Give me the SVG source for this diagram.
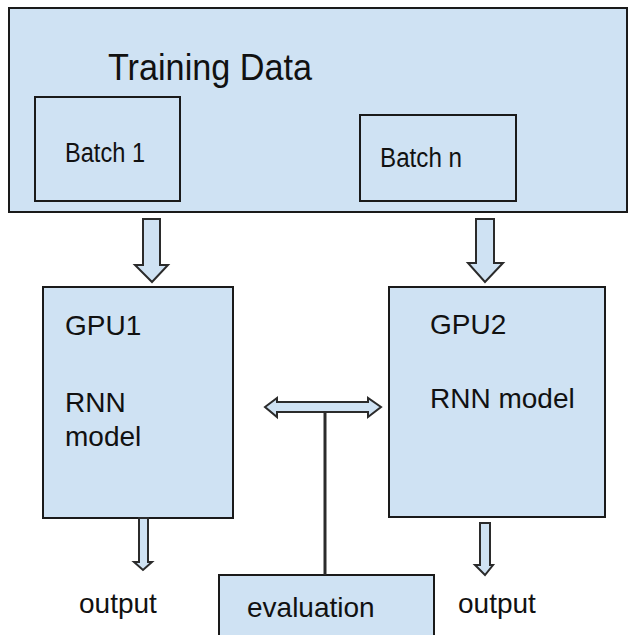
<svg xmlns="http://www.w3.org/2000/svg" width="633" height="635" viewBox="0 0 633 635">
  <style>
    .box { fill: #cfe2f3; stroke: #1a1a1a; stroke-width: 2; }
    .arrow { fill: #cfe2f3; stroke: #2b2b2b; stroke-width: 2; stroke-linejoin: miter; }
    .label { font-family: "Liberation Sans", Arial, sans-serif; fill: #111; }
  </style>
  <rect width="633" height="635" fill="#ffffff"/>

  <!-- Training data container with its batches -->
  <g id="training-data">
    <rect class="box" x="9" y="8" width="618" height="204"/>
    <text class="label" x="108" y="80" font-size="36" textLength="204" lengthAdjust="spacingAndGlyphs">Training Data</text>
  </g>
  <g id="batch-1">
    <rect class="box" x="35" y="97" width="145" height="104"/>
    <text class="label" x="65" y="162" font-size="27" textLength="80" lengthAdjust="spacingAndGlyphs">Batch 1</text>
  </g>
  <g id="batch-n">
    <rect class="box" x="360" y="115" width="156" height="86"/>
    <text class="label" x="380" y="167" font-size="27" textLength="82" lengthAdjust="spacingAndGlyphs">Batch n</text>
  </g>

  <!-- GPU workers -->
  <g id="gpu1">
    <rect class="box" x="43" y="287" width="190" height="231"/>
    <text class="label" x="65" y="335" font-size="28">GPU1</text>
    <text class="label" x="65" y="412" font-size="28">RNN</text>
    <text class="label" x="65" y="446" font-size="28">model</text>
  </g>
  <g id="gpu2">
    <rect class="box" x="389" y="287" width="216" height="230"/>
    <text class="label" x="430" y="334" font-size="28">GPU2</text>
    <text class="label" x="430" y="408" font-size="28">RNN model</text>
  </g>

  <!-- Evaluation and outputs -->
  <g id="evaluation">
    <rect class="box" x="219" y="575" width="215" height="70"/>
    <text class="label" x="247" y="617" font-size="28">evaluation</text>
  </g>
  <g id="output-1">
    <text class="label" x="79" y="613" font-size="28">output</text>
  </g>
  <g id="output-2">
    <text class="label" x="458" y="613" font-size="28">output</text>
  </g>

  <!-- Connectors -->
  <g id="connectors">
    <!-- batch 1 to GPU1 -->
    <path class="arrow" d="M143,219 H160 V265 H168 L152,282 L135,265 H143 Z"/>
    <!-- batch n to GPU2 -->
    <path class="arrow" d="M476,219 H494 V263 H503 L485,282 L468,263 H476 Z"/>
    <!-- GPU1 to output -->
    <path class="arrow" d="M139,518 H148 V562 H152 L143,570 L134,562 H139 Z"/>
    <!-- GPU2 to output -->
    <path class="arrow" d="M480,523 H490 V565 H493 L485,575 L475,565 H480 Z"/>
    <!-- exchange between GPUs -->
    <path class="arrow" d="M265,407 L277,398 V402 H368 V398 L381,407 L368,417 V412 H277 V417 Z"/>
    <!-- evaluation link -->
    <line x1="325" y1="413" x2="325" y2="575" stroke="#2b2b2b" stroke-width="3"/>
  </g>
</svg>
